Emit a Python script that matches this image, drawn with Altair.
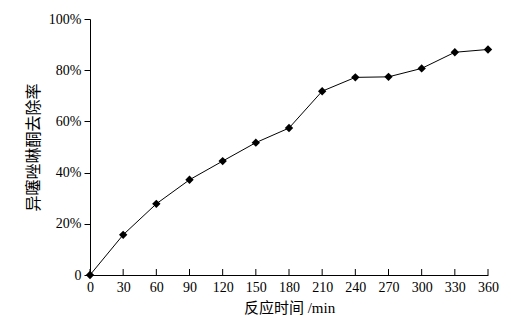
import altair as alt
import pandas as pd

times = [0, 30, 60, 90, 120, 150, 180, 210, 240, 270, 300, 330, 360]
removal = [0, 15.7, 27.8, 37.2, 44.5, 51.7, 57.4, 71.8, 77.2, 77.4, 80.7, 87.0, 88.1]
x_ticks = [0, 30, 60, 90, 120, 150, 180, 210, 240, 270, 300, 330, 360]
y_ticks = [0, 20, 40, 60, 80, 100]

df = pd.DataFrame({"t": times, "r": removal})
tick_df = pd.DataFrame({"t": x_ticks})

serif = "Liberation Serif"
mixed = "Liberation Serif, Noto Sans CJK SC"
cjk = "Noto Sans CJK SC"

x_scale = alt.Scale(domain=[0, 360], nice=False)
y_scale = alt.Scale(domain=[0, 100], nice=False)

x_enc = alt.X("t:Q", scale=x_scale,
              axis=alt.Axis(values=x_ticks, ticks=False, labelPadding=5,
                            labelOverlap=False,
                            title="反应时间 /min", titleFont=mixed, titleFontSize=15,
                            titleFontWeight="normal", titlePadding=6,
                            labelFont=serif, labelFontSize=14, grid=False,
                            domainColor="black", labelColor="black", titleColor="black",
                            labelFlush=False))
y_enc = alt.Y("r:Q", scale=y_scale,
              axis=alt.Axis(values=y_ticks, tickSize=6, tickColor="black",
                            labelOverlap=False,
                            labelExpr="datum.value == 0 ? '0' : datum.value + '%'",
                            title="异噻唑啉酮去除率", titleFont=cjk, titleFontSize=16,
                            titleFontWeight="normal", titlePadding=7,
                            labelFont=serif, labelFontSize=14, labelPadding=3, grid=False,
                            domainColor="black", labelColor="black", titleColor="black"))

line = alt.Chart(df).mark_line(color="black", strokeWidth=1).encode(x=x_enc, y=y_enc)
pts = alt.Chart(df).mark_point(shape="diamond", filled=True, color="black", size=70, opacity=1).encode(
    x=x_enc, y=y_enc)
ticks = alt.Chart(tick_df).mark_rule(color="black", strokeWidth=1).encode(
    x=x_enc, y=alt.value(250), y2=alt.value(256))

chart = alt.layer(line, ticks, pts).properties(
    width=398, height=256,
    autosize=alt.AutoSizeParams(type="none"),
    padding={"left": 82, "top": 11, "right": 15, "bottom": 50},
).configure(background="white").configure_view(stroke=None)

chart.save("out.html", embed_options={"renderer": "svg", "actions": False})
